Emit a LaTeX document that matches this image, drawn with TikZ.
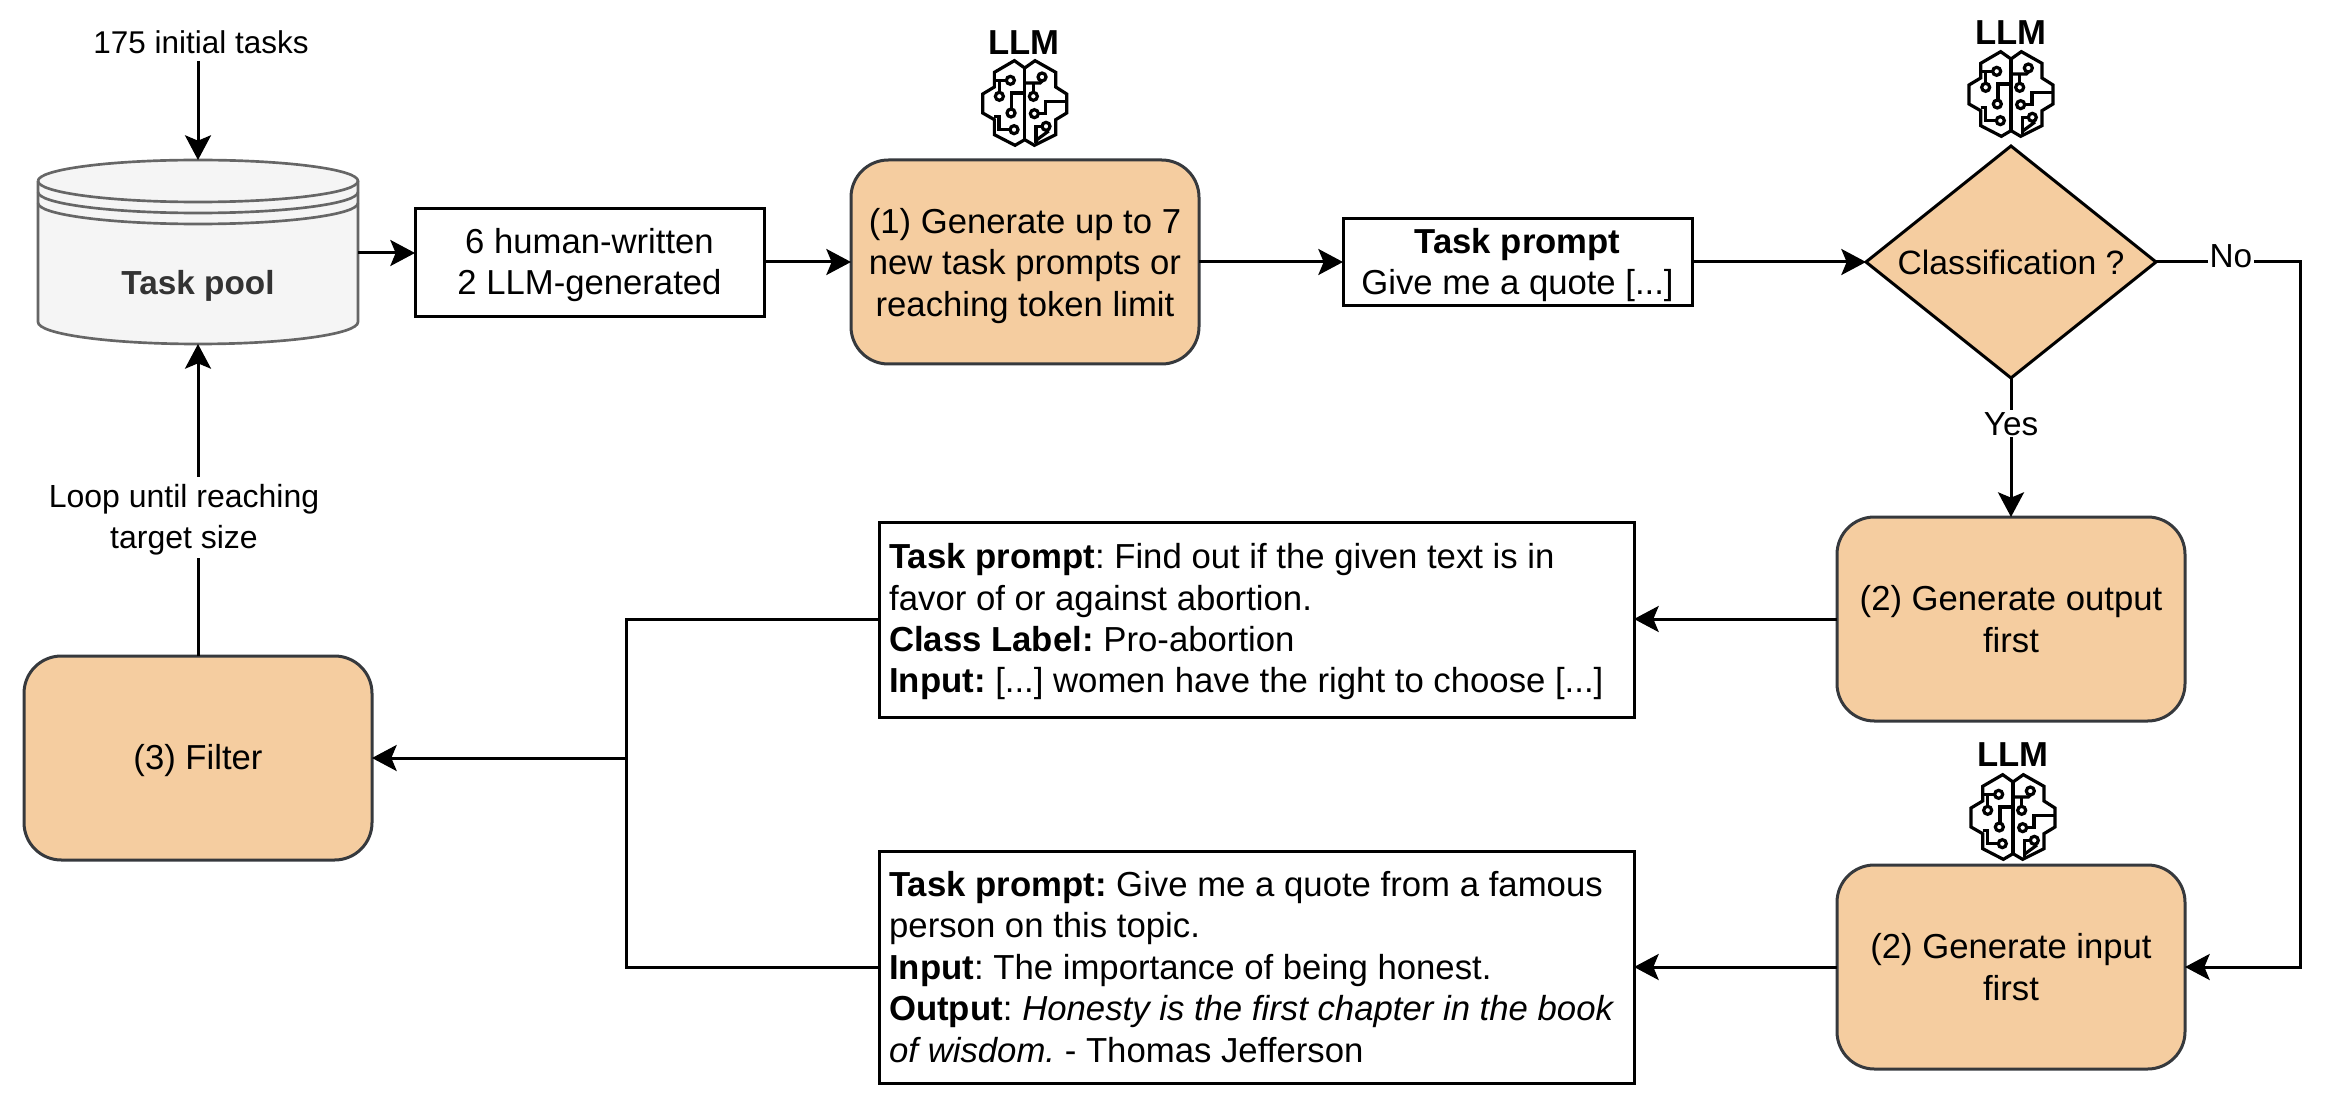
\documentclass[tikz,border=0pt]{standalone}
\usepackage{fontspec}
\setmainfont{Liberation Sans}
\usetikzlibrary{arrows.meta,shapes.geometric}
\definecolor{peach}{HTML}{F5CDA0}
\definecolor{edgedark}{HTML}{36393D}
\definecolor{poolfill}{HTML}{F5F5F5}
\definecolor{poolline}{HTML}{666666}
\definecolor{pooltext}{HTML}{333333}
\newsavebox{\txtbox}
\newcommand{\lowered}[2]{\sbox{\txtbox}{#2}\raisebox{-#1}[\ht\txtbox][\dp\txtbox]{\usebox{\txtbox}}}
\newcommand{\ctext}[2][3pt]{\lowered{#1}{\begin{tabular}{@{}c@{}}#2\end{tabular}}}
\newcommand{\ltext}[2][3pt]{\lowered{#1}{\makebox[551pt][l]{\begin{tabular}{@{}l@{}}#2\end{tabular}}}}
\tikzset{
  base/.style={font=\fontsize{23.6}{31.1}\selectfont\frenchspacing,text=black},
  big/.style={font=\fontsize{26}{31.1}\selectfont\frenchspacing,text=black},
  plainbox/.style={big,draw=black,line width=2.25pt,fill=white,inner sep=0pt,outer sep=0pt},
  leftbox/.style={plainbox,font=\fontsize{26.05}{31.1}\selectfont\frenchspacing},
  stepbox/.style={big,draw=edgedark,line width=2.25pt,fill=peach,rounded corners=28pt,inner sep=0pt,outer sep=0pt,minimum width=261pt,minimum height=153pt},
  decision/.style={font=\fontsize{25.3}{31.1}\selectfont,diamond,aspect=1.25,draw=black,line width=2.25pt,fill=peach,inner sep=0pt,outer sep=0pt,minimum width=217.5pt,minimum height=174pt},
  conn/.style={draw=black,line width=2.25pt},
  arr/.style={conn,-{Stealth[length=18.5pt,width=19.5pt,inset=4pt]}},
  lab/.style={font=\fontsize{25}{31.1}\selectfont,inner sep=1.5pt,fill=white},
  llm/.style={font=\fontsize{26}{30}\selectfont\bfseries,text=black,inner sep=0pt},
  brain/.pic={
    \begin{scope}[x=.25pt,y=-.25pt,line width=2.4pt,draw=black,line join=miter]
      \draw (0,-105) -- (-31,-127) -- (-91,-92) -- (-91,-48) -- (-126,-27) -- (-126,30) -- (-91,50) -- (-91,95) -- (-29,127) -- (0,110) -- (29,127) -- (93,95) -- (93,50) -- (126,30) -- (126,-27) -- (93,-48) -- (93,-92) -- (31,-127) -- cycle;
      \draw (0,-105) -- (0,110);
      \foreach \p in {(-43,-68),(-76,-20),(-41,30),(-32,80),(52,-78),(26,-20),(29,32),(64,70)}
        \draw \p circle[radius=3pt];
      \draw (-55,-68) -- (-91,-68);
      \draw (-76,-68) -- (-76,-32);
      \draw (0,-30) -- (-39,-30) -- (-39,18);
      \draw (-91,40) -- (-77,40) -- (-77,80) -- (-44,80);
      \draw (0,-60) -- (46,-60) -- (52,-66);
      \draw (26,-60) -- (26,-32);
      \draw (41,32) -- (63,32) -- (63,-5) -- (126,-5);
      \draw (34,120) -- (34,70) -- (52,70);
      \draw (34,112) -- (72,84);
    \end{scope}
  }
}
\begin{document}
\begin{tikzpicture}[x=.75pt,y=-.75pt]
\useasboundingbox (0,0) rectangle (2332,1098);

% cylinder
\begin{scope}[draw=poolline,line width=2pt]
  \fill[poolfill] (38,181) -- (38,322) arc[start angle=180,end angle=360,x radius=120pt,y radius=16.5pt] -- (358,181) arc[start angle=0,end angle=180,x radius=120pt,y radius=15.75pt] -- cycle;
  \draw (38,181) -- (38,322) arc[start angle=180,end angle=360,x radius=120pt,y radius=16.5pt] -- (358,181);
  \draw (38,181) arc[start angle=180,end angle=-180,x radius=120pt,y radius=15.75pt];
  \draw (38,192) arc[start angle=180,end angle=360,x radius=120pt,y radius=15.75pt];
  \draw (38,203) arc[start angle=180,end angle=360,x radius=120pt,y radius=15.75pt];
\end{scope}
\node[minimum width=240pt,minimum height=138pt,inner sep=0pt,outer sep=0pt] (pool) at (198,252) {};
\node[font=\fontsize{25}{30}\selectfont\bfseries,text=pooltext,inner sep=0pt] (poollabel) at (198,286) {Task pool};

\node[base,inner sep=0pt] (init) at (201,42) {175 initial tasks};
\coordinate (inita) at (198,61);

\node[plainbox,minimum width=261.75pt,minimum height=81pt] (few) at (589.5,262.5) {\ctext[2.25pt]{6 human-written\\2 LLM-generated}};
\node[stepbox] (gen) at (1025,262) {\ctext[3.4pt]{(1) Generate up to 7\\new task prompts or\\reaching token limit}};
\node[plainbox,minimum width=261.75pt,minimum height=65.25pt] (prompt) at (1517.5,262.5) {\ctext[2.25pt]{\textbf{Task prompt}\\Give me a quote [...]}};
\node[decision] (cls) at (2011,262) {Classification ?};
\node[stepbox] (out) at (2011,619) {\ctext[3pt]{(2) Generate output\\first}};
\node[stepbox] (inp) at (2011,967) {\ctext[3pt]{(2) Generate input\\first}};
\node[stepbox] (filter) at (198,758) {\ctext[2.25pt]{(3) Filter}};
\node[leftbox,minimum width=566.25pt,minimum height=146.25pt] (upper) at (1256.5,619.5) {\ltext[2.25pt]{\textbf{Task prompt}: Find out if the given text is in\\favor of or against abortion.\\\textbf{Class Label:} Pro-abortion\\\textbf{Input:} [...] women have the right to choose [...]}};
\node[leftbox,minimum width=566.25pt,minimum height=174pt] (lower) at (1256.5,967) {\ltext[3pt]{\textbf{Task prompt:} Give me a quote from a famous\\person on this topic.\\\textbf{Input}: The importance of being honest.\\\textbf{Output}: \textit{Honesty is the first chapter in the book}\\\textit{of wisdom.} - Thomas Jefferson}};

% LLM markers
\node[llm] (llmA) at (1024,42.5) {LLM};
\pic (brainA) at (1024.7,103) {brain};
\node[llm] (llmB) at (2011,32.5) {LLM};
\pic (brainB) at (2011,94) {brain};
\node[llm] (llmC) at (2013,755) {LLM};
\pic (brainC) at (2013,817) {brain};

% connectors
\draw[arr] (inita) -- (pool.north -| inita);
\coordinate (poolr) at (358,253);
\draw[arr] (poolr) -- (poolr -| few.west);
\draw[arr] (few.east |- gen.west) -- (gen.west);
\draw[arr] (gen.east) -- (prompt.west |- gen.east);
\draw[arr] (prompt.east |- cls.west) -- (cls.west);
\draw[arr] (cls.south) -- node[lab,pos=.33] (yes) {Yes} (out.north);
\coordinate (nocorner) at (2300,262);
\draw[arr] (cls.east) -- node[lab,pos=.52,inner xsep=1pt,yshift=4.5pt,inner ysep=0pt,fill=none] (no) {\colorbox{white}{\hspace{-2pt}No\hspace{-2pt}}} (nocorner) |- (inp.east);
\draw[arr] (out.west) -- (upper.east |- out.west);
\draw[arr] (inp.west) -- (lower.east |- inp.west);
\coordinate (junction) at (626,758);
\draw[conn] (upper.west) -| (junction);
\draw[conn] (lower.west) -| (junction);
\draw[arr] (junction) -- (filter.east);
\draw[arr] (filter.north) -- (pool.south);
\node[base,fill=white,inner xsep=2pt,inner ysep=-1pt,font=\fontsize{24}{31.1}\selectfont] (loop) at (184,517.5) {\ctext[1.5pt]{Loop until reaching\\target size}};
\end{tikzpicture}
\end{document}
